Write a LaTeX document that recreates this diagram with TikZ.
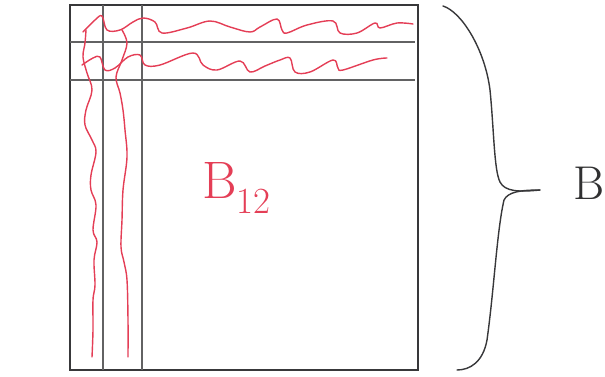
\documentclass[tikz,border=0pt]{standalone}
\usetikzlibrary{positioning}
\definecolor{penred}{RGB}{228,62,86}
\definecolor{pencil}{RGB}{70,70,72}

\begin{document}
\begin{tikzpicture}[
  x=0.02cm, y=-0.02cm,
  frame/.style={draw=pencil!80!black, line width=1.1pt},
  rule/.style={draw=pencil!85, line width=0.6pt},
  wave/.style={draw=penred, line width=0.8pt, line cap=round, line join=round},
  bracket/.style={draw=pencil!80!black, line width=0.8pt, line cap=round},
  tag/.style={inner sep=0pt, font=\fontsize{30}{32}\selectfont},
]
\useasboundingbox (0,0) rectangle (605,376);

% === BLOCK MATRIX ===
\coordinate (nw) at (70,5);
\coordinate (se) at (418,370);
\draw[frame] (nw) rectangle (se);

% first two rows and columns
\draw[rule] (70,42) -- (415,42);
\draw[rule] (70,80) -- (415,80);
\draw[rule] (103,5) -- (103,370);
\draw[rule] (142,5) -- (142,370);

% red wiggles: rows
\draw[wave] plot[smooth, tension=0.6] coordinates {(83,32) (95,20) (102,16) (107,30) (120,30) (133,22) (143,18) (155,22) (162,33) (187,28) (210,21) (230,27) (250,32) (260,27) (277,19) (282,30) (287,33) (307,25) (333,21) (340,33) (357,33) (375,23) (380,28) (397,23) (413,24)};
\draw[wave] plot[smooth, tension=0.6] coordinates {(82,65) (93,58) (100,57) (105,70) (115,68) (128,57) (140,55) (145,65) (160,65) (193,53) (203,65) (217,70) (240,61) (250,72) (265,66) (280,60) (290,58) (295,72) (310,72) (333,60) (338,68) (343,70) (373,60) (387,58)};

% red wiggles: columns
\draw[wave] plot[smooth, tension=0.6] coordinates {(86,30) (85,43) (83,57) (87,73) (92,90) (86,110) (85,125) (92,140) (96,152) (91,175) (91,190) (96,205) (93,230) (97,242) (94,260) (95,285) (93,300) (93,330) (92,357)};
\draw[wave] plot[smooth, tension=0.6] coordinates {(122,30) (127,43) (122,60) (116,77) (120,93) (123,110) (125,130) (127,157) (123,190) (122,220) (121,247) (124,262) (127,280) (128,320) (128,357)};

\node[tag, text=penred, anchor=base west] (blk) at (202,198) {B\raisebox{-0.7ex}{\fontsize{21}{22}\selectfont 12}};

% === BRACE ===
\coordinate (tip) at (540,190);
\draw[bracket] (443,6) .. controls (462,12) and (485,50) .. (490,90)
  .. controls (494,130) and (494,170) .. (500,182)
  .. controls (505,192) and (520,192) .. (tip);
\draw[bracket] (tip) .. controls (520,190) and (508,192) .. (504,200)
  .. controls (497,230) and (494,290) .. (487,340)
  .. controls (483,362) and (470,370) .. (457,370);

\node[tag, font=\fontsize{27}{29}\selectfont, text=pencil!70!black, anchor=base west] (whole) at (573,199) {B};
\end{tikzpicture}
\end{document}
